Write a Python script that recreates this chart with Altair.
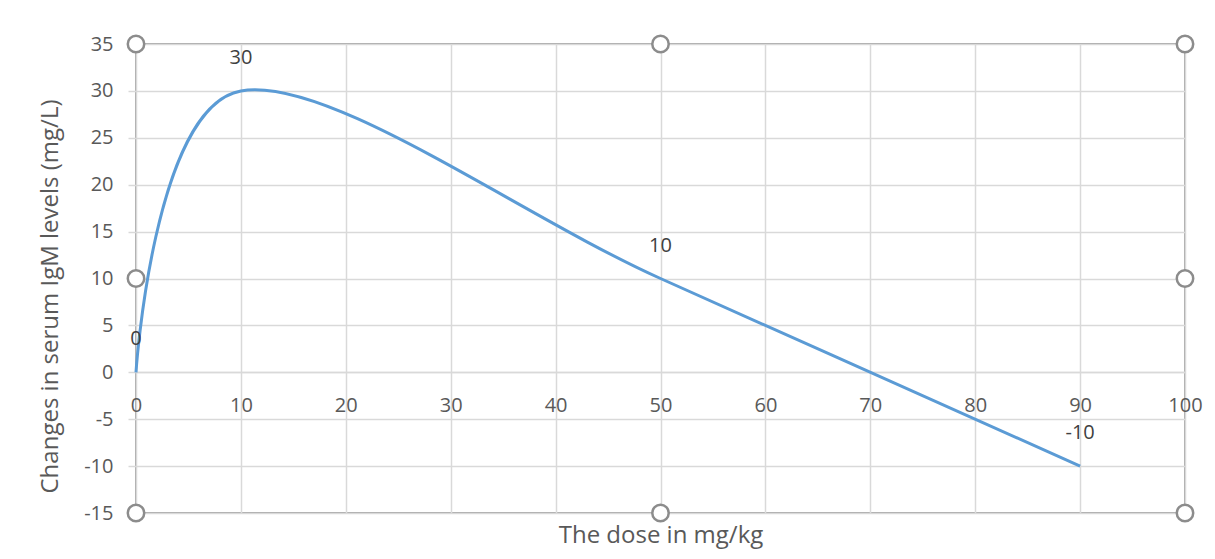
import altair as alt
import pandas as pd

# Data
dose = [0, 10, 50, 90]
igm_change = [0, 30, 10, -10]
point_labels = ["0", "30", "10", "-10"]

x_ticks = [0, 10, 20, 30, 40, 50, 60, 70, 80, 90, 100]
y_ticks = [-15, -10, -5, 0, 5, 10, 15, 20, 25, 30, 35]

# selection handles around the plot area (Excel look)
handle_x = [0, 50, 100, 0, 100, 0, 50, 100]
handle_y = [35, 35, 35, 10, 10, -15, -15, -15]

df = pd.DataFrame({"dose": dose, "igm": igm_change, "label": point_labels})
hdf = pd.DataFrame({"hx": handle_x, "hy": handle_y})

FONT = "Open Sans"
TXT = "#595959"
GRID = "#d9d9d9"

xscale = alt.Scale(domain=[0, 100], nice=False, zero=False)
yscale = alt.Scale(domain=[-15, 35], nice=False, zero=False)

x_enc = alt.X(
    "dose:Q",
    scale=xscale,
    axis=alt.Axis(
        values=x_ticks,
        labelExpr="'' + datum.value",
        labelFlush=False,
        labelOverlap=False,
        title="The dose in mg/kg",
        offset=-141,
        ticks=False,
        domainColor=GRID,
        domainWidth=1.5,
        grid=True,
        gridColor=GRID,
        gridWidth=1.5,
        labelPadding=23,
        labelFont=FONT,
        labelFontSize=20,
        labelColor=TXT,
        titleFont=FONT,
        titleFontSize=24,
        titleFontWeight="normal",
        titleColor=TXT,
        titleY=163,
        titleBaseline="middle",
    ),
)
y_enc = alt.Y(
    "igm:Q",
    scale=yscale,
    axis=alt.Axis(
        values=y_ticks,
        labelExpr="'' + datum.value",
        labelFlush=False,
        labelOverlap=False,
        title="Changes in serum IgM levels (mg/L)",
        domain=False,
        ticks=True,
        tickSize=8,
        tickColor=GRID,
        tickWidth=1.5,
        grid=True,
        gridColor=GRID,
        gridWidth=1.5,
        labelPadding=15,
        labelFont=FONT,
        labelFontSize=20,
        labelColor=TXT,
        titleFont=FONT,
        titleFontSize=24,
        titleFontWeight="normal",
        titleColor=TXT,
        titleX=-86,
        titleY=252,
        titleBaseline="middle",
    ),
)

line = alt.Chart(df).mark_line(
    interpolate="cardinal", tension=0, color="#5b9bd5", strokeWidth=3
).encode(x=x_enc, y=y_enc)

labels = alt.Chart(df).mark_text(
    dy=-33, font=FONT, fontSize=20, color="#404040", align="center", baseline="middle"
).encode(x=alt.X("dose:Q", scale=xscale), y=alt.Y("igm:Q", scale=yscale), text="label:N")

handles = alt.Chart(hdf).mark_point(
    shape="circle", size=270, filled=True, fill="white", stroke="#8c8c8c", strokeWidth=2.5, opacity=1
).encode(x=alt.X("hx:Q", scale=xscale), y=alt.Y("hy:Q", scale=yscale))

chart = (
    alt.layer(line, labels, handles)
    .properties(
        width=1049,
        height=469,
        autosize=alt.AutoSizeParams(type="none"),
        padding={"left": 128, "top": 36, "right": 22, "bottom": 38},
        background="white",
    )
    .configure_view(stroke="#a6a6a6", strokeWidth=2)
)

chart.save("out.html", embed_options={"renderer": "svg", "actions": False})
